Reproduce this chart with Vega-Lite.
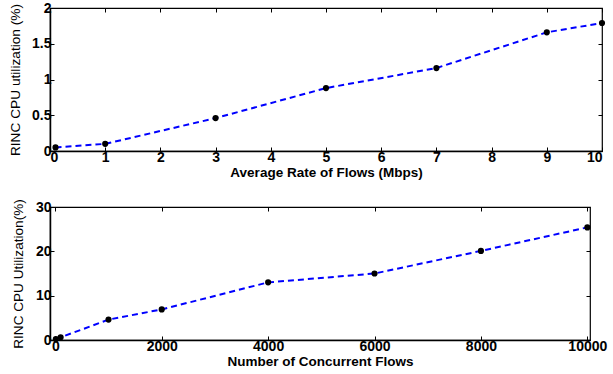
{
  "$schema": "https://vega.github.io/schema/vega-lite/v6.json",
  "padding": {"left": 7, "top": 0, "right": 0, "bottom": 0},
  "background": "white",
  "config": {
    "font": "Liberation Sans",
    "view": {"stroke": "black", "strokeWidth": 1.2},
    "axis": {
      "domainColor": "black", "domainWidth": 1.5, "tickColor": "black",
      "tickSize": -4, "tickWidth": 1, "grid": false,
      "labelFont": "Liberation Sans", "labelFontWeight": "bold", "labelFontSize": 14, "labelColor": "black",
      "titleFont": "Liberation Sans", "titleColor": "black"
    }
  },
  "spacing": 18,
  "vconcat": [
    {
      "width": 552, "height": 143,
      "data": {"values": [
        {"rate": 0.1, "cpu": 0.05}, {"rate": 1, "cpu": 0.1}, {"rate": 3, "cpu": 0.46},
        {"rate": 5, "cpu": 0.88}, {"rate": 7, "cpu": 1.16}, {"rate": 9, "cpu": 1.66}, {"rate": 10, "cpu": 1.79}
      ]},
      "layer": [
        {
          "mark": {"type": "line", "color": "#0000ff", "strokeDash": [6, 4], "strokeWidth": 2},
          "encoding": {
            "x": {"field": "rate", "type": "quantitative", "scale": {"domain": [0, 10], "nice": false},
              "axis": {"values": [0,1,2,3,4,5,6,7,8,9,10], "title": "Average Rate of Flows (Mbps)", "titleFontSize": 13.5, "titleFontWeight": "bold", "titlePadding": 1, "labelPadding": 3}},
            "y": {"field": "cpu", "type": "quantitative", "scale": {"domain": [0, 2], "nice": false},
              "axis": {"values": [0, 0.5, 1, 1.5, 2], "format": "~g", "title": "RINC CPU utilization (%)", "titleFontSize": 13.7, "titleFontWeight": "normal", "titlePadding": 9, "labelPadding": 3}}
          }
        },
        {
          "mark": {"type": "point", "filled": true, "color": "black", "size": 38, "opacity": 1},
          "encoding": {
            "x": {"field": "rate", "type": "quantitative", "axis": {"orient": "top", "values": [0,1,2,3,4,5,6,7,8,9,10], "labels": false, "title": null, "domain": false}},
            "y": {"field": "cpu", "type": "quantitative", "axis": {"orient": "right", "values": [0, 0.5, 1, 1.5, 2], "labels": false, "title": null, "domain": false}}
          }
        }
      ],
      "resolve": {"axis": {"x": "independent", "y": "independent"}}
    },
    {
      "width": 540, "height": 133,
      "data": {"values": [
        {"flows": 10, "cpu": 0.2}, {"flows": 100, "cpu": 0.6}, {"flows": 1000, "cpu": 4.6},
        {"flows": 2000, "cpu": 6.9}, {"flows": 4000, "cpu": 13.0}, {"flows": 6000, "cpu": 15.0},
        {"flows": 8000, "cpu": 20.1}, {"flows": 10000, "cpu": 25.4}
      ]},
      "layer": [
        {
          "mark": {"type": "line", "color": "#0000ff", "strokeDash": [6, 4], "strokeWidth": 2},
          "encoding": {
            "x": {"field": "flows", "type": "quantitative", "scale": {"domain": [-100, 10050], "nice": false, "zero": false},
              "axis": {"values": [0, 2000, 4000, 6000, 8000, 10000], "format": "d", "title": "Number of Concurrent Flows", "titleFontSize": 13.5, "titleFontWeight": "bold", "titlePadding": 1, "labelPadding": 3}},
            "y": {"field": "cpu", "type": "quantitative", "scale": {"domain": [0, 30], "nice": false},
              "axis": {"values": [0, 10, 20, 30], "title": "RINC CPU Utilization(%)", "titleFontSize": 13.6, "titleFontWeight": "normal", "titlePadding": 10, "labelPadding": 3}}
          }
        },
        {
          "mark": {"type": "point", "filled": true, "color": "black", "size": 38, "opacity": 1},
          "encoding": {
            "x": {"field": "flows", "type": "quantitative", "axis": {"orient": "top", "values": [0, 2000, 4000, 6000, 8000, 10000], "labels": false, "title": null, "domain": false}},
            "y": {"field": "cpu", "type": "quantitative", "axis": {"orient": "right", "values": [0, 10, 20, 30], "labels": false, "title": null, "domain": false}}
          }
        }
      ],
      "resolve": {"axis": {"x": "independent", "y": "independent"}}
    }
  ]
}
